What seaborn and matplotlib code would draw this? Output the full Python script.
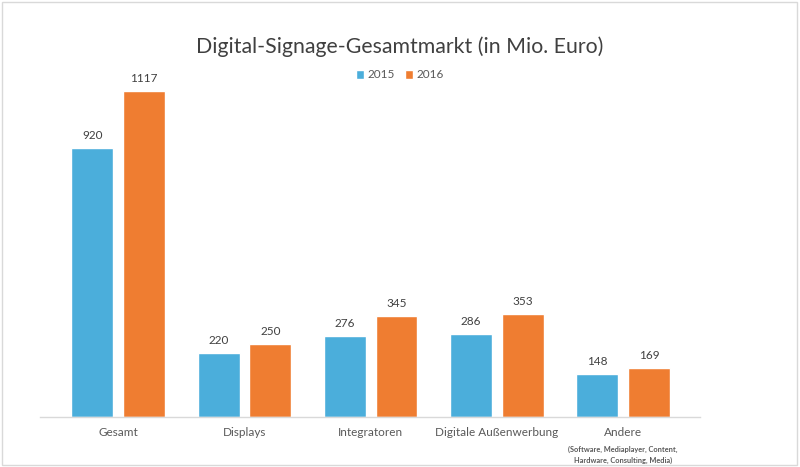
import matplotlib
matplotlib.use("Agg")
import matplotlib.pyplot as plt
import seaborn as sns
import pandas as pd
from matplotlib.patches import Rectangle

categories = ["Gesamt", "Displays", "Integratoren", "Digitale Außenwerbung", "Andere"]
years = ["2015", "2016"]
values_2015 = [920, 220, 276, 286, 148]
values_2016 = [1117, 250, 345, 353, 169]
andere_note = "(Software, Mediaplayer, Content,\nHardware, Consulting, Media)"

df = pd.DataFrame({
    "Kategorie": categories * 2,
    "Jahr": [years[0]] * len(categories) + [years[1]] * len(categories),
    "Wert": values_2015 + values_2016,
})

sns.set_style("white")
plt.rcParams["font.family"] = ["Lato", "DejaVu Sans"]

fig = plt.figure(figsize=(8, 4.67), dpi=100)
ax = fig.add_axes([0.05, 0.107, 0.825, 0.722])

palette = {"2015": "#4BAEDB", "2016": "#EF7D31"}
sns.barplot(data=df, x="Kategorie", y="Wert", hue="Jahr", palette=palette,
            width=0.82, gap=0.19, saturation=1, ax=ax, legend=True)

for cont in ax.containers:
    ax.bar_label(cont, padding=5, fontsize=8.5, color="#404040")

ax.set_ylim(0, 1117 * 337 / 326)
ax.set_xlim(-0.62, 4.61)
ax.set_xlabel("")
ax.set_ylabel("")
ax.set_yticks([])
ax.tick_params(axis="x", length=0, pad=7, labelsize=8.5, labelcolor="#595959")
for s in ["top", "right", "left"]:
    ax.spines[s].set_visible(False)
ax.spines["bottom"].set_color("#D9D9D9")
ax.spines["bottom"].set_linewidth(1)

# small note under "Andere"
ax.annotate(andere_note, xy=(4, 0), xycoords=("data", "axes fraction"),
            xytext=(0, -21), textcoords="offset points", ha="center", va="top",
            fontsize=5.3, color="#595959", fontweight="bold", linespacing=1.6)

ax.legend_.remove()
handles, labels = ax.get_legend_handles_labels()
leg = fig.legend(handles, labels, loc="center", bbox_to_anchor=(0.5, 1 - 75 / 467),
                 ncol=2, frameon=False, fontsize=8.5, handlelength=0.7, handleheight=0.7,
                 handletextpad=0.3, columnspacing=0.8)
for t in leg.get_texts():
    t.set_color("#595959")

fig.text(0.5, 1 - 47 / 467, "Digital-Signage-Gesamtmarkt (in Mio. Euro)", ha="center", va="center",
         fontsize=15.3, color="#404040")

fig.patches.append(Rectangle((0.002, 0.004), 0.994, 0.992, transform=fig.transFigure,
                             fill=False, edgecolor="#D9D9D9", linewidth=1))

fig.savefig("out.png", dpi=100)
